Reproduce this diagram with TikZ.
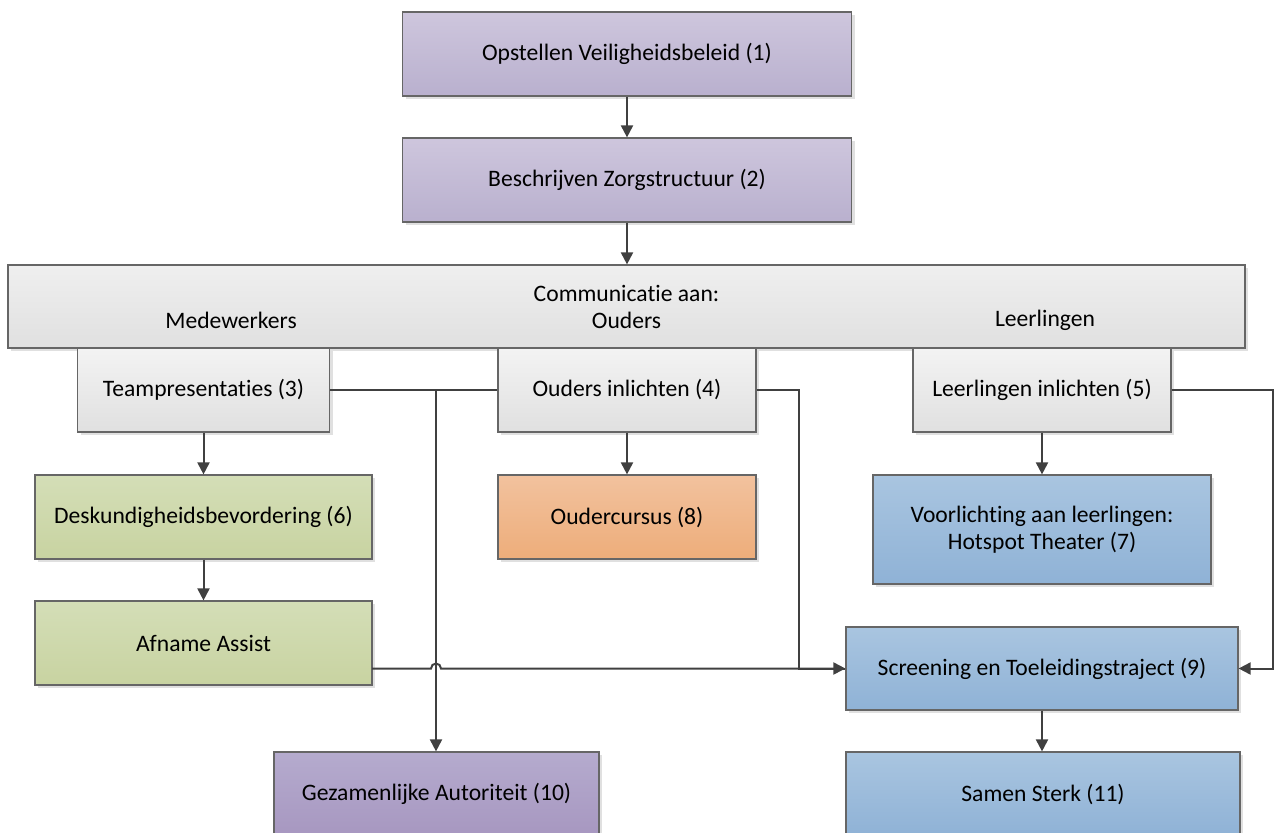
\documentclass[tikz,border=0pt]{standalone}
\usepackage{fontspec}
\setmainfont{Carlito}[Ligatures=NoCommon]
\usetikzlibrary{arrows.meta,shadows}
\definecolor{bordc}{HTML}{666666}
\definecolor{linec}{HTML}{404040}
\definecolor{purT}{HTML}{CEC6DD}
\definecolor{purB}{HTML}{B9B0CE}
\definecolor{pdT}{HTML}{B5ABCE}
\definecolor{pdB}{HTML}{A797C0}
\definecolor{grT}{HTML}{F3F3F3}
\definecolor{grB}{HTML}{E0E0E0}
\definecolor{gnT}{HTML}{D4DEB7}
\definecolor{gnB}{HTML}{C8D3A1}
\definecolor{orT}{HTML}{F2C29E}
\definecolor{orB}{HTML}{EDAD7A}
\definecolor{blT}{HTML}{A9C5E0}
\definecolor{blB}{HTML}{8FB2D6}
\tikzset{
  box/.style={draw=bordc, line width=1.2pt, rectangle, inner sep=0pt, align=center,
    font=\fontsize{23.6}{27}\selectfont,
    drop shadow={shadow xshift=3pt, shadow yshift=-3pt, fill=black!12, opacity=1}},
  purbox/.style={box, top color=purT, bottom color=purB},
  pdbox/.style={box, top color=pdT, bottom color=pdB},
  grbox/.style={box, top color=grT, bottom color=grB},
  gnbox/.style={box, top color=gnT, bottom color=gnB},
  orbox/.style={box, top color=orT, bottom color=orB},
  blbox/.style={box, top color=blT, bottom color=blB},
  lbl/.style={font=\fontsize{23.6}{27}\selectfont, inner sep=0pt},
  conn/.style={draw=linec, line width=2pt},
  arr/.style={-{Triangle[length=12pt,width=12pt]}},
}
\begin{document}
\begin{tikzpicture}[x=1pt,y=-1pt]
\useasboundingbox (0,0) rectangle (1276,832);
% row 1-2
\node[purbox, minimum width=449pt, minimum height=84pt] (b1) at (627,54) {Opstellen Veiligheidsbeleid (1)};
\node[purbox, minimum width=449pt, minimum height=84pt] (b2) at (627,180) {Beschrijven Zorgstructuur (2)};
% communication box
\node[grbox, top color=grT!80!grB, minimum width=1237pt, minimum height=83pt] (cm) at (626.5,306.5) {Communicatie aan:\\Ouders};
\node[lbl] (mw) at (231,320) {Medewerkers};
\node[lbl] (ll) at (1045,320) {Leerlingen};
% row 3
\node[grbox, minimum width=252pt, minimum height=84pt] (b3) at (203.5,390) {Teampresentaties (3)};
\node[grbox, minimum width=258pt, minimum height=84pt] (b4) at (627,390) {Ouders inlichten (4)};
\node[grbox, minimum width=258pt, minimum height=84pt] (b5) at (1042,390) {Leerlingen inlichten (5)};
% row 4
\node[gnbox, minimum width=337pt, minimum height=84pt] (b6) at (203.5,517) {Deskundigheidsbevordering (6)};
\node[orbox, minimum width=258pt, minimum height=84pt] (b8) at (627,517) {Oudercursus (8)};
\node[blbox, minimum width=338pt, minimum height=109pt] (b7) at (1042,529.5) {Voorlichting aan leerlingen:\\Hotspot Theater (7)};
% row 5
\node[gnbox, minimum width=337pt, minimum height=84pt] (af) at (203.5,643) {Afname Assist};
\node[blbox, minimum width=392pt, minimum height=83pt] (b9) at (1042,668.5) {Screening en Toeleidingstraject (9)};
% row 6
\node[pdbox, minimum width=325pt, minimum height=84pt] (b10) at (436.5,794) {Gezamenlijke Autoriteit (10)};
\node[blbox, minimum width=394pt, minimum height=84pt] (b11) at (1043,794) {Samen Sterk (11)};
% connectors
\coordinate (j1) at (436,390);
\coordinate (a1) at (372,668.5);
\draw[conn, arr] (b1) -- (b2);
\draw[conn, arr] (b2.south) -- (b2.south |- cm.north);
\draw[conn, arr] (b3) -- (b6);
\draw[conn, arr] (b6) -- (af);
\draw[conn, arr] (b4) -- (b8);
\draw[conn, arr] (b5.south) -- (b7.north);
\draw[conn, arr] (b9) -- (b11.north -| b9.south);
\draw[conn, arr] (b3.east) -- (j1) -- (b10.north -| j1);
\draw[conn] (b4.west) -- (j1);
\draw[conn, arr] (a1) -- (431,668.5) arc (180:360:5) -- (b9.west);
\draw[conn] (b4.east) -- ++(42,0) |- (b9.west);
\draw[conn, arr] (b5.east) -- ++(101,0) |- (b9.east);
\end{tikzpicture}
\end{document}
